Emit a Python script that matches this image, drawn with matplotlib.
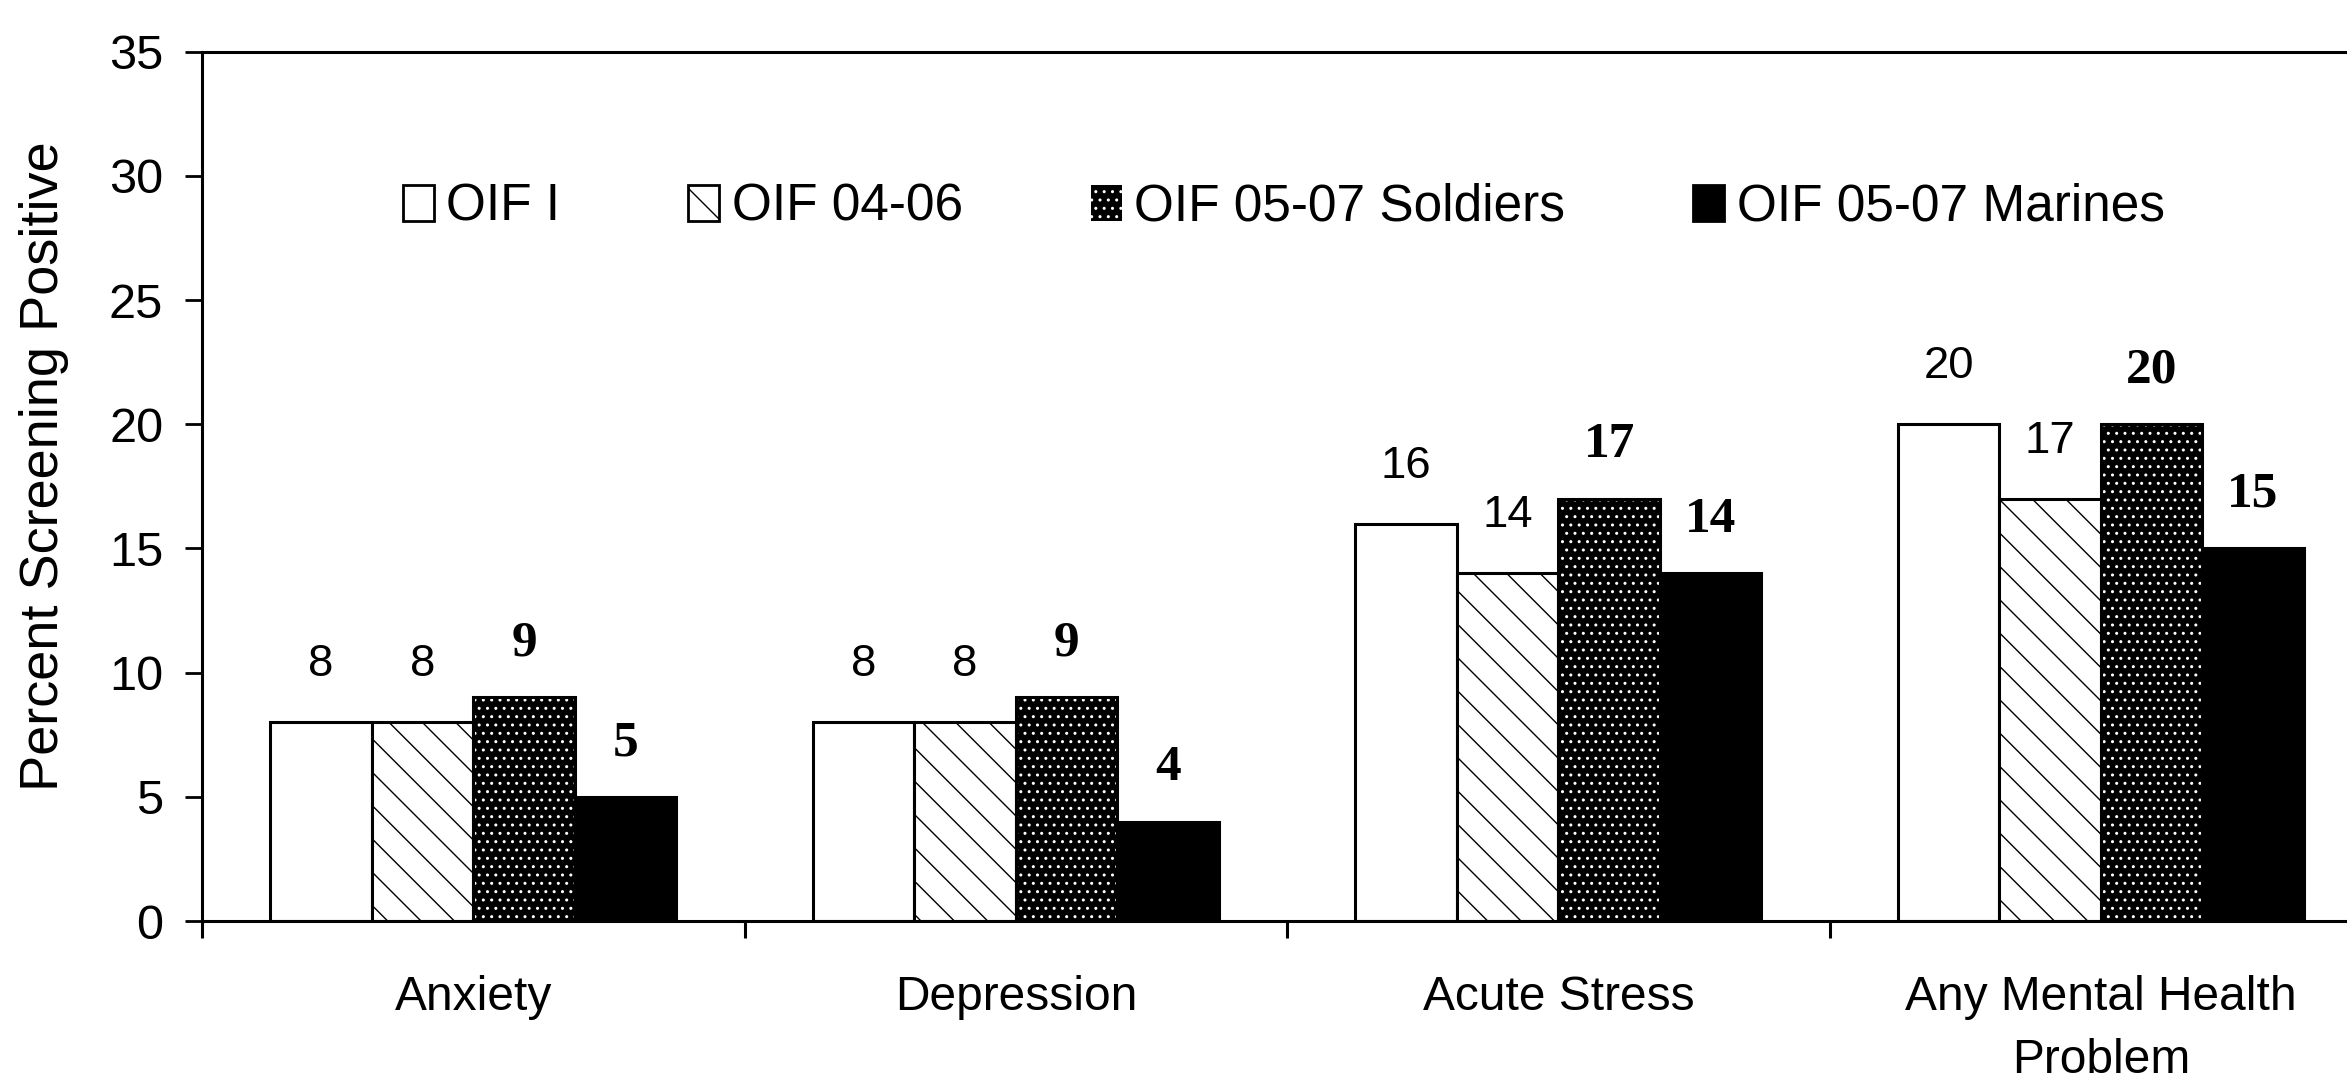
import matplotlib
matplotlib.use("Agg")
import matplotlib.pyplot as plt
import numpy as np
from matplotlib import font_manager
from matplotlib.patches import Patch

# values
categories = ["Anxiety", "Depression", "Acute Stress", "Any Mental Health\nProblem"]
series_names = ["OIF I", "OIF 04-06", "OIF 05-07 Soldiers", "OIF 05-07 Marines"]
oif_1 = [8, 8, 16, 20]
oif_04_06 = [8, 8, 14, 17]
oif_05_07_soldiers = [9, 9, 17, 20]
oif_05_07_marines = [5, 4, 14, 15]
y_ticks = [0, 5, 10, 15, 20, 25, 30, 35]

# the original text looks like Arial Narrow, use it if we have it
installed = {f.name for f in font_manager.fontManager.ttflist}
if "Liberation Sans Narrow" in installed:
    narrow = "Liberation Sans Narrow"
    squeeze = 1.0
else:
    narrow = "Liberation Sans"
    squeeze = 0.84
SANS = "Liberation Sans"
SERIF = "Liberation Serif"

fig = plt.figure(figsize=(23.47, 10.79), dpi=100)
ax = fig.add_axes([0.0861, 0.1464, 0.9246, 0.8057])

x = np.arange(len(categories))
w = 0.187
offsets = [-1.5 * w, -0.5 * w, 0.5 * w, 1.5 * w]
edge_lw = 2.2

ax.bar(x + offsets[0], oif_1, w, color="white", edgecolor="black",
       linewidth=edge_lw, zorder=2)
ax.bar(x + offsets[1], oif_04_06, w, color="white", edgecolor="black",
       hatch="\\", linewidth=edge_lw, zorder=2)
# white dots on black, outline drawn on top separately
ax.bar(x + offsets[2], oif_05_07_soldiers, w, color="black", edgecolor="white",
       hatch="..", linewidth=0, zorder=2)
ax.bar(x + offsets[2], oif_05_07_soldiers, w, fill=False, edgecolor="black",
       linewidth=edge_lw, zorder=3)
ax.bar(x + offsets[3], oif_05_07_marines, w, color="black", edgecolor="black",
       linewidth=edge_lw, zorder=2)


def add_labels(xpos, vals, lift, **font):
    for xi, v in zip(xpos, vals):
        ax.annotate(str(v), (xi, v), xytext=(0, lift), textcoords="offset points",
                    ha="center", va="baseline", **font)


add_labels(x + offsets[0], oif_1, 33, family=narrow, fontsize=39 * squeeze)
add_labels(x + offsets[1], oif_04_06, 33, family=narrow, fontsize=39 * squeeze)
add_labels(x + offsets[2], oif_05_07_soldiers, 30, family=SERIF, fontweight="bold", fontsize=37)
add_labels(x + offsets[3], oif_05_07_marines, 30, family=SERIF, fontweight="bold", fontsize=37)

# axes, ticks
ax.set_xlim(-0.5, 3.5)
ax.set_ylim(0, 35)
ax.set_yticks(y_ticks)
ax.set_xticks(np.arange(-0.5, 4, 1))
ax.set_xticklabels([])
ax.set_xticks(x, minor=True)
ax.set_xticklabels(categories, minor=True, fontfamily=narrow,
                   fontsize=41 * squeeze, linespacing=1.5)
ax.tick_params(axis="x", which="major", direction="out", length=12, width=2.2)
ax.tick_params(axis="x", which="minor", length=0, pad=39)
ax.tick_params(axis="y", direction="out", length=12, width=2, pad=16, labelsize=35)
for lab in ax.get_yticklabels():
    lab.set_fontfamily(SANS)

ax.spines["right"].set_visible(False)
for side in ["left", "top", "bottom"]:
    ax.spines[side].set_linewidth(2.2)

fig.text(0.0188, 0.568, "Percent Screening Positive", rotation=90,
         ha="center", va="center", fontsize=39, family=SANS)

# legend
handles = [
    Patch(facecolor="white", edgecolor="black", linewidth=2),
    Patch(facecolor="white", edgecolor="black", hatch="\\", linewidth=2),
    Patch(facecolor="black", edgecolor="white", hatch="..", linewidth=0),
    Patch(facecolor="black", edgecolor="black", linewidth=2),
]
fig.legend(handles, series_names, loc="center left",
           bbox_to_anchor=(403 / 2347, 0.808), bbox_transform=fig.transFigure,
           ncol=4, frameon=False, borderpad=0, borderaxespad=0,
           handlelength=0.6, handleheight=0.7, handletextpad=0.24,
           columnspacing=2.5, prop={"family": narrow, "size": 44 * squeeze})

fig.savefig("out.png", dpi=100)
